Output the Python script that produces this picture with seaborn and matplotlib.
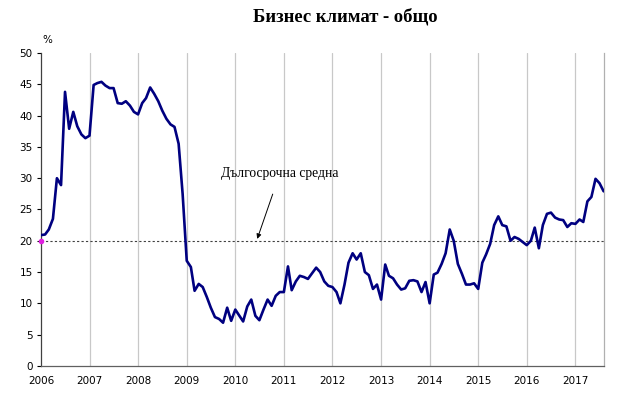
import matplotlib
matplotlib.use("Agg")
import matplotlib.pyplot as plt
import matplotlib.dates as mdates
import seaborn as sns
import pandas as pd

# monthly business climate indicator, Jan 2006 - Aug 2017
climate = [
    20.9, 21.0, 21.8, 23.5, 30.0, 28.9, 43.8, 37.9, 40.6, 38.3, 37.0, 36.4,
    36.8, 44.9, 45.2, 45.4, 44.8, 44.4, 44.4, 42.0, 41.9, 42.3, 41.6, 40.6,
    40.2, 42.0, 42.8, 44.5, 43.5, 42.3, 40.8, 39.5, 38.6, 38.2, 35.5, 27.5,
    16.8, 15.8, 12.0, 13.1, 12.6, 11.0, 9.3, 7.8, 7.5, 6.9, 9.3, 7.2,
    9.0, 8.0, 7.1, 9.5, 10.6, 8.0, 7.3, 9.0, 10.6, 9.6, 11.2, 11.8,
    11.8, 15.9, 12.1, 13.5, 14.4, 14.2, 13.9, 14.8, 15.7, 15.0, 13.5, 12.8,
    12.6, 11.8, 10.0, 13.0, 16.5, 18.0, 17.0, 18.0, 15.0, 14.5, 12.3, 13.0,
    10.6, 16.2, 14.4, 14.0, 13.0, 12.2, 12.4, 13.6, 13.7, 13.5, 11.8, 13.4,
    10.0, 14.6, 14.9, 16.3, 18.0, 21.8, 20.0, 16.3, 14.7, 13.0, 13.0, 13.2,
    12.3, 16.5, 17.8, 19.5, 22.5, 23.9, 22.5, 22.3, 20.0, 20.6, 20.3, 19.8,
    19.3, 20.0, 22.1, 18.8, 22.5, 24.3, 24.5, 23.7, 23.4, 23.3, 22.2, 22.8,
    22.7, 23.4, 23.0, 26.3, 27.0, 29.9, 29.2, 27.9,
]
long_term_avg = 20
years = list(range(2006, 2018))

months = pd.date_range("2006-01-01", periods=len(climate), freq="MS")
df = pd.DataFrame({"month": months, "climate": climate})

sns.set_style("white")
plt.rcParams["text.color"] = "black"

fig = plt.figure(figsize=(6.3, 3.99), dpi=100)
ax = fig.add_axes([0.065, 0.083, 0.894, 0.784])

for y in years[1:]:
    ax.axvline(pd.Timestamp(f"{y}-01-01"), color="#c8c8c8", lw=0.9, zorder=0)

ax.axhline(long_term_avg, color="#404040", lw=0.8, ls=(0, (2, 2)), zorder=1)
ax.plot(months[0], long_term_avg, marker="o", ms=3, color="#e020e0", zorder=4, clip_on=False)

sns.lineplot(data=df, x="month", y="climate", color="#000080", lw=1.9, ax=ax, zorder=3)
ax.lines[-1].set_solid_joinstyle("round")

ax.set_xlim(months[0], pd.Timestamp("2017-08-05"))
ax.set_ylim(0, 50)
ax.set_yticks(range(0, 51, 5))
ax.set_xticks([pd.Timestamp(f"{y}-01-01") for y in years])
ax.xaxis.set_major_formatter(mdates.DateFormatter("%Y"))
ax.set_xlabel("")
ax.set_ylabel("")
ax.tick_params(axis="both", labelsize=7.5, colors="#000000", length=3, width=0.8, pad=3)
ax.tick_params(axis="x", length=0, pad=7)
ax.tick_params(axis="y", direction="out", left=True)

ax.spines["top"].set_visible(False)
ax.spines["left"].set_color("#404040")
ax.spines["bottom"].set_color("#606060")
ax.spines["right"].set_color("#b0b0b0")
for s in ax.spines.values():
    s.set_linewidth(0.9)

ax.text(0.002, 1.025, "%", transform=ax.transAxes, fontsize=7.5, ha="left", va="bottom")

ax.annotate("Дългосрочна средна", xy=(pd.Timestamp("2010-06-15"), 20.3),
            xytext=(pd.Timestamp("2010-12-01"), 30.7),
            fontsize=9.8, family="Liberation Serif", ha="center", va="center",
            arrowprops=dict(arrowstyle="-|>", color="black", lw=0.7,
                            mutation_scale=7, shrinkA=8, shrinkB=0))

fig.text(0.548, 0.958, "Бизнес климат - общо", fontsize=13.4, fontweight="bold",
         family="Liberation Serif", ha="center", va="center", color="black")

fig.savefig("out.png", dpi=100, facecolor="white")
